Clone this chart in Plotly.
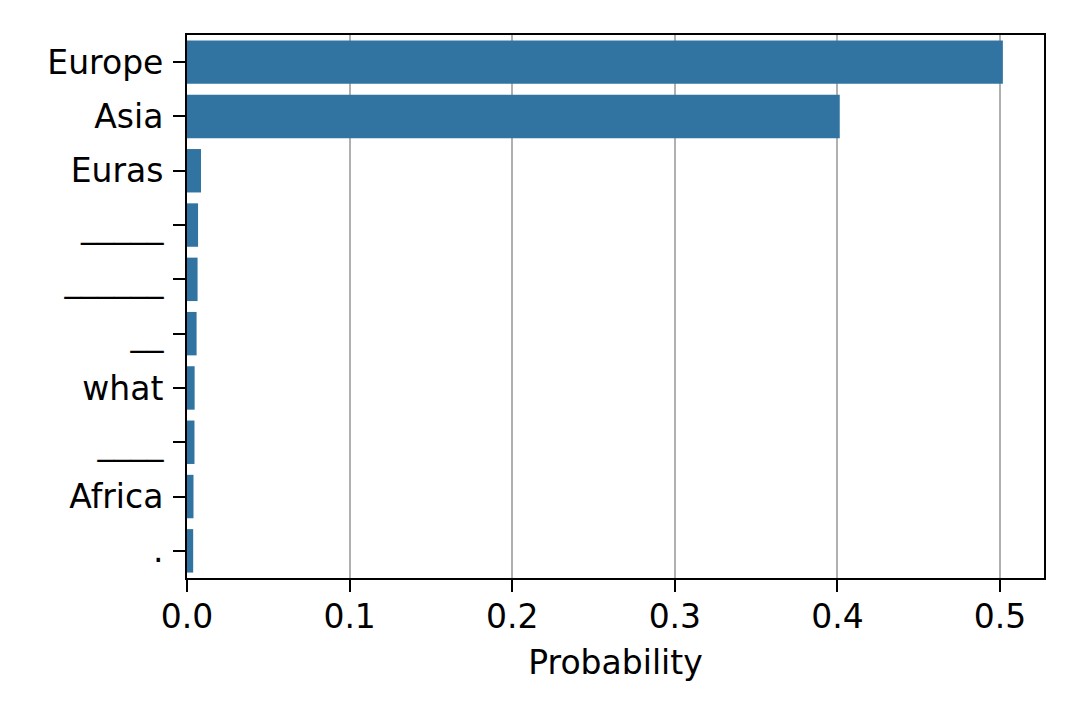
import plotly.graph_objects as go

categories = ["Europe", "Asia", "Euras", "_____", "______", "__", "what", "____", "Africa", "."]
probabilities = [0.5017, 0.4014, 0.0086, 0.0068, 0.0065, 0.0059, 0.0047, 0.0046, 0.0040, 0.0038]
x_ticks = [0.0, 0.1, 0.2, 0.3, 0.4, 0.5]

FONT = "DejaVu Sans"
FS = 33

fig = go.Figure(
    go.Bar(
        x=probabilities,
        y=categories,
        orientation="h",
        width=0.8,
        marker=dict(color="#3274a1", line=dict(width=0)),
    )
)

fig.update_layout(
    width=1080,
    height=720,
    margin=dict(l=179, r=44, t=27, b=150),
    paper_bgcolor="white",
    plot_bgcolor="white",
    showlegend=False,
    font=dict(family=FONT, size=FS, color="black"),
    bargap=0.2,
)

fig.update_xaxes(
    range=[0, 0.527],
    tickvals=x_ticks,
    ticktext=[f"{v:.1f}" for v in x_ticks],
    showgrid=True,
    gridcolor="#b0b0b0",
    gridwidth=2,
    zeroline=False,
    ticks="outside",
    ticklen=12,
    tickwidth=2,
    tickcolor="black",
    showline=True,
    linecolor="black",
    linewidth=2,
    mirror=True,
    layer="above traces",
    ticklabelstandoff=-4,
    tickfont=dict(family=FONT, size=FS, color="black"),
    title=dict(text="Probability", font=dict(family=FONT, size=FS, color="black"), standoff=16),
)

fig.update_yaxes(
    categoryorder="array",
    categoryarray=categories,
    range=[9.5, -0.5],
    showgrid=False,
    zeroline=False,
    ticks="outside",
    ticklen=12,
    tickwidth=2,
    tickcolor="black",
    showline=True,
    linecolor="black",
    linewidth=2,
    mirror=True,
    layer="above traces",
    ticklabelstandoff=3,
    tickfont=dict(family=FONT, size=FS, color="black"),
)

fig.write_html("out.html")
